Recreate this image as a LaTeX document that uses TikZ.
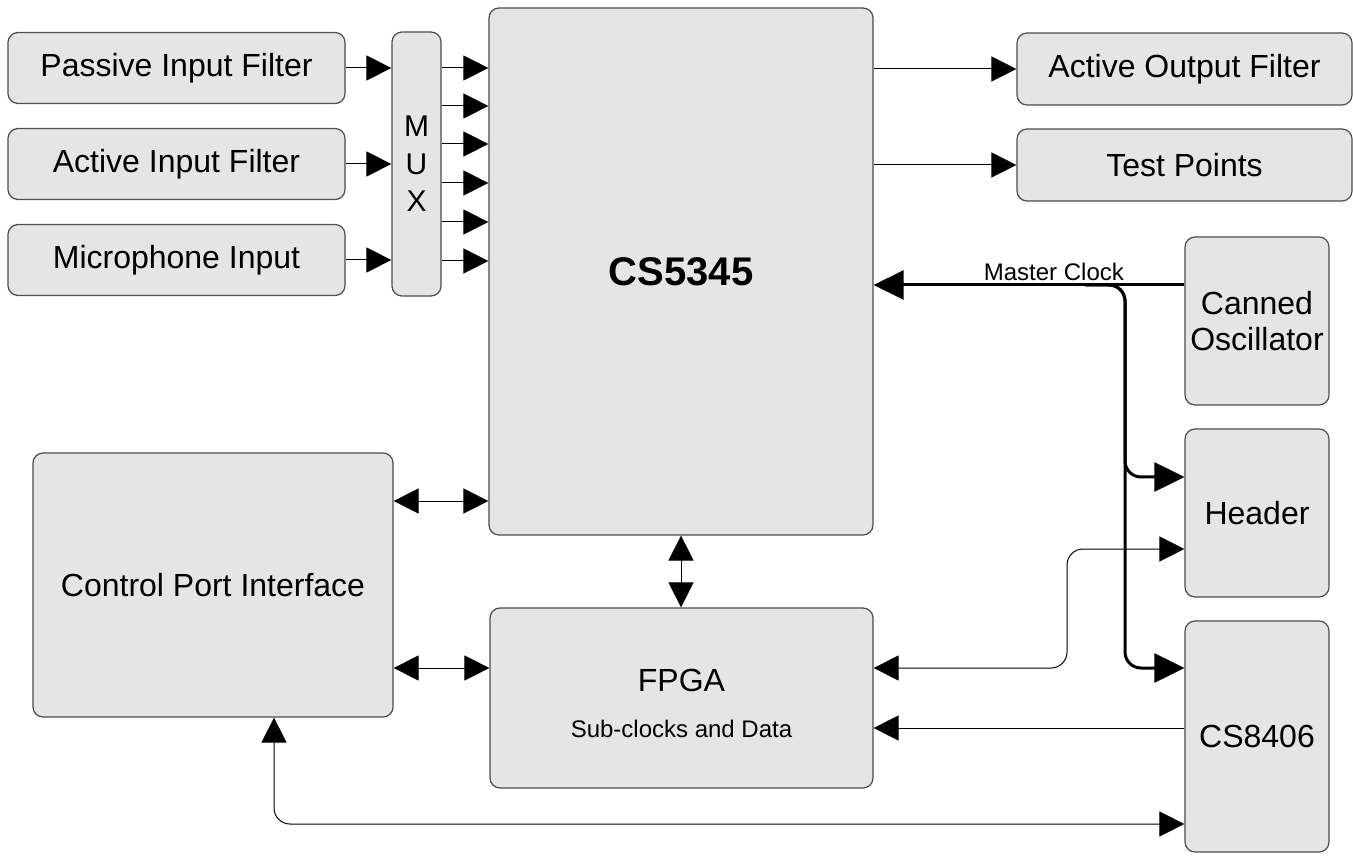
\documentclass[tikz,border=0pt]{standalone}
\usepackage{fontspec}
\setmainfont{Liberation Sans}
\usetikzlibrary{arrows.meta}

\begin{document}
\begin{tikzpicture}[x=0.5pt, y=-0.5pt]
\tikzstyle{block}=[draw=black!70, fill=black!10, rounded corners=5pt, line width=0.6pt, inner sep=0pt, align=center, font=\fontsize{16}{18}\selectfont]
\tikzstyle{sig}=[line width=0.5pt, -{Triangle[length=12.5pt, width=12.5pt]}]
\tikzstyle{bidir}=[line width=0.5pt, {Triangle[length=12.5pt, width=12.5pt]}-{Triangle[length=12.5pt, width=12.5pt]}]
\tikzstyle{clk}=[line width=1.5pt, -{Triangle[length=15pt, width=14.5pt]}]
\useasboundingbox (0,0) rectangle (1353,865);

% inputs and mux
\node[block, minimum width=168.5pt, minimum height=35.5pt] (pif) at (176.5,68) {Passive Input Filter};
\node[block, minimum width=168.5pt, minimum height=35.5pt] (aif) at (176.5,164) {Active Input Filter};
\node[block, minimum width=168.5pt, minimum height=35.5pt] (mic) at (176.5,260) {Microphone Input};
\node[block, minimum width=24.5pt, minimum height=132pt, font=\fontsize{15}{18.75}\selectfont] (mux) at (416.5,164) {M\\U\\X};

% converter and fpga
\node[block, minimum width=192pt, minimum height=263.5pt, font=\bfseries\fontsize{20}{24}\selectfont] (cs5345) at (681,271.5) {CS5345};
\node[block, minimum width=191.5pt, minimum height=90pt] (fpga) at (681.5,698) {};
\node[anchor=base, inner sep=0pt, font=\fontsize{16}{18}\selectfont] (fpgatitle) at ([yshift=3.5pt]fpga.center) {FPGA};
\node[anchor=base, inner sep=0pt, font=\fontsize{12}{14}\selectfont] (fpgasub) at ([yshift=-19.5pt]fpga.center) {Sub-clocks and Data};
\node[block, minimum width=180pt, minimum height=132pt] (cpi) at (213,585) {Control Port Interface};

% outputs and clock side
\node[block, minimum width=167.5pt, minimum height=36pt] (aof) at (1184.5,69) {Active Output Filter};
\node[block, minimum width=167.5pt, minimum height=36pt] (tp) at (1184.5,165) {Test Points};
\node[block, minimum width=72pt, minimum height=84pt] (osc) at (1257,321) {Canned\\Oscillator};
\node[block, minimum width=72pt, minimum height=84pt] (header) at (1257,513) {Header};
\node[block, minimum width=72pt, minimum height=115.5pt] (cs8406) at (1257,736.5) {CS8406};

% signal paths
\foreach \src in {pif,aif,mic}
  \draw[sig] (\src) -- (mux.west |- \src);
\foreach \yy in {68,106,144,183,222,261}
  \draw[sig] (mux.east |- 0,\yy) -- (cs5345.west |- 0,\yy);
\draw[sig] (cs5345.east |- aof) -- (aof);
\draw[sig] (cs5345.east |- tp) -- (tp);

% master clock
\coordinate (tap) at (1125,285);
\coordinate (ckin) at (cs8406.west |- 0,668);
\draw[clk] (osc.west |- tap) -- node[pos=0.42, above, inner sep=1.5pt, font=\fontsize{12}{14}\selectfont] {Master Clock} (cs5345.east |- tap);
\draw[clk, rounded corners=8pt] ([xshift=-20pt]tap) -| ([yshift=18pt]header.west -| tap) -- ([yshift=18pt]header.west);
\draw[clk, rounded corners=8pt] ([xshift=-20pt]tap) -| (ckin -| tap) -- (ckin);

% control and data
\coordinate (jog) at (1067,668);
\draw[bidir, rounded corners=8pt] ([yshift=-18pt]header.west) -| (jog) -- (fpga.east |- jog);
\draw[sig] (cs8406.west |- 0,728) -- (fpga.east |- 0,728);
\draw[bidir] (cpi.east |- 0,501) -- (cs5345.west |- 0,501);
\draw[bidir] (cpi.east |- jog) -- (fpga.west |- jog);
\draw[bidir] (cs5345.south) -- (cs5345.south |- fpga.north);
\draw[bidir, rounded corners=8pt] ([xshift=30.5pt]cpi.south) |- (cs8406.west |- 0,824);

\end{tikzpicture}
\end{document}
